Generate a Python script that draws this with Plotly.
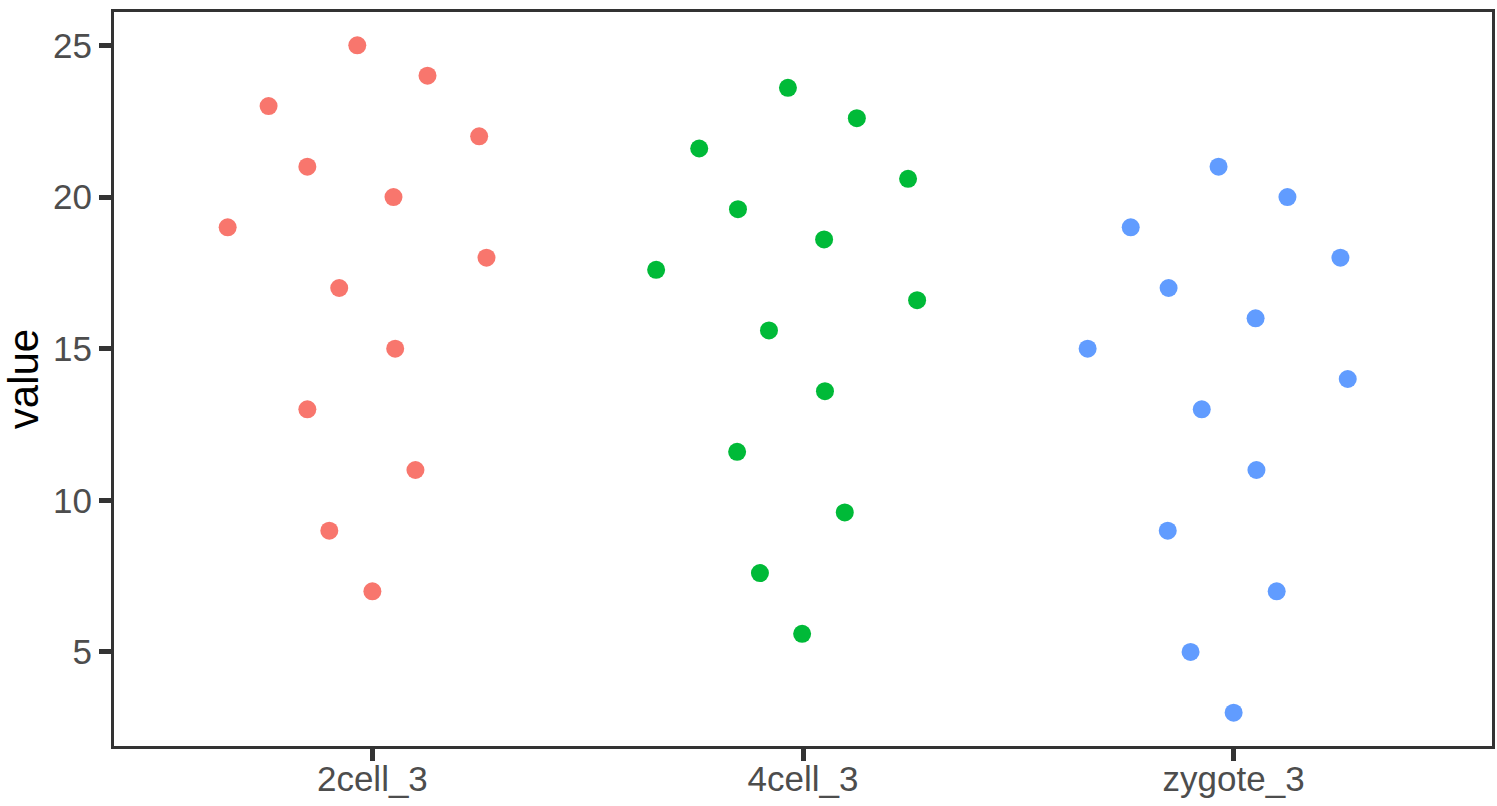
import plotly.graph_objects as go

categories = ["2cell_3", "4cell_3", "zygote_3"]
colors = ["#F8766D", "#00BA38", "#619CFF"]

# values per group and horizontal jitter (in category units)
vals_2cell = [19, 23, 21, 25, 24, 22, 20, 18, 17, 15, 13, 11, 9, 7]
jit_2cell = [-0.336, -0.241, -0.151, -0.035, 0.128, 0.248, 0.049, 0.265, -0.077, 0.053, -0.151, 0.100, -0.100, 0.000]

vals_4cell = [23.6, 22.6, 21.6, 20.6, 19.6, 18.6, 17.6, 16.6, 15.6, 13.6, 11.6, 9.6, 7.6, 5.6]
jit_4cell = [-0.035, 0.125, -0.241, 0.244, -0.151, 0.049, -0.341, 0.265, -0.079, 0.051, -0.153, 0.097, -0.100, -0.002]

vals_zygote = [21, 20, 19, 18, 17, 16, 15, 14, 13, 11, 9, 7, 5, 3]
jit_zygote = [-0.035, 0.125, -0.239, 0.248, -0.151, 0.051, -0.339, 0.265, -0.074, 0.053, -0.153, 0.100, -0.100, 0.000]

y_ticks = [5, 10, 15, 20, 25]

groups = [(vals_2cell, jit_2cell), (vals_4cell, jit_4cell), (vals_zygote, jit_zygote)]

fig = go.Figure()
for i, (vals, jit) in enumerate(groups):
    xs = [i + 1 + j for j in jit]
    fig.add_trace(go.Scatter(
        x=xs, y=vals, mode="markers", name=categories[i],
        marker=dict(color=colors[i], size=18, line=dict(width=0)),
        showlegend=False,
    ))

FONT = "Liberation Sans, Arial, sans-serif"
axis_common = dict(
    showline=True, mirror=True, linecolor="#333333", linewidth=3,
    ticks="outside", ticklen=12, tickwidth=4.5, tickcolor="#333333",
    showgrid=False, zeroline=False, automargin=False,
    tickfont=dict(family=FONT, size=35, color="#4D4D4D"),
)

fig.update_layout(
    width=1497, height=806,
    margin=dict(l=114, r=5, t=12, b=60),
    paper_bgcolor="white", plot_bgcolor="white",
    xaxis=dict(range=[0.4, 3.6], tickvals=[1, 2, 3], ticktext=categories,
               ticklabelstandoff=-12, **axis_common),
    yaxis=dict(range=[1.9, 26.1], tickvals=y_ticks, ticktext=[str(t) for t in y_ticks],
               title=dict(text="value", font=dict(family=FONT, size=42, color="black"), standoff=8),
               **axis_common),
)

fig.write_html("out.html", config={"displayModeBar": False},
               post_script="document.body.style.margin='0';document.body.style.overflow='hidden';")
